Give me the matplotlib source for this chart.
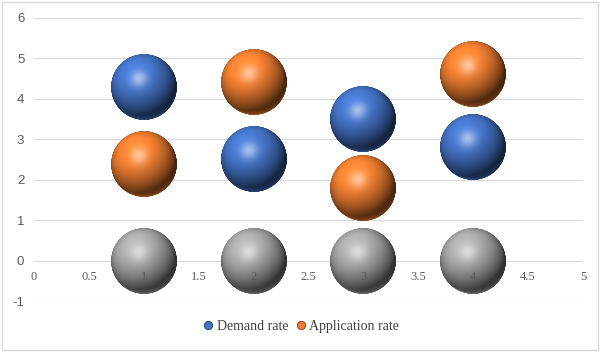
import numpy as np
import matplotlib
matplotlib.use("Agg")
import matplotlib.pyplot as plt
from matplotlib.offsetbox import OffsetImage, AnnotationBbox
from matplotlib.lines import Line2D
from matplotlib.patches import Rectangle

# ---- data ----
x_positions = [1, 2, 3, 4]
demand_rate = [4.3, 2.5, 3.5, 2.8]
application_rate = [2.4, 4.4, 1.8, 4.6]
baseline = [0, 0, 0, 0]
series_names = ["Demand rate", "Application rate", ""]
series_colors = ["#4472C4", "#ED7D31", "#A5A5A5"]
x_ticks = [0, 0.5, 1, 1.5, 2, 2.5, 3, 3.5, 4, 4.5, 5]
x_tick_labels = ["0", "0.5", "1", "1.5", "2", "2.5", "3", "3.5", "4", "4.5", "5"]
y_ticks = [-1, 0, 1, 2, 3, 4, 5, 6]

DPI = 100
SPHERE_PX = 66
N = 200


def sphere_image(hex_color, n=N):
    base = np.array(matplotlib.colors.to_rgb(hex_color))
    c = (np.arange(n) + 0.5) / n * 2 - 1
    u, vv = np.meshgrid(c, c)
    v = -vv
    r2 = u ** 2 + v ** 2
    w = np.sqrt(np.clip(1 - r2, 0, 1))
    L = np.array([-0.3, 0.5, 0.81])
    L = L / np.linalg.norm(L)
    diff = np.clip(u * L[0] + v * L[1] + w * L[2], 0, 1)
    H = L + np.array([0, 0, 1.0])
    H = H / np.linalg.norm(H)
    spec = np.clip(u * H[0] + v * H[1] + w * H[2], 0, 1) ** 30
    rim = np.clip(-v, 0, 1) ** 2 * (1 - w) ** 2 * 0.45
    shade = 0.30 + 0.85 * diff
    rgb = base[None, None, :] * shade[..., None]
    rgb = rgb + rim[..., None] * base[None, None, :]
    rgb = rgb + 0.5 * spec[..., None] * (1 - rgb)
    rgb = np.clip(rgb, 0, 1)
    dist = np.sqrt(r2)
    alpha = np.clip((1 - dist) * n / 2.0 + 0.5, 0, 1)
    return np.dstack([rgb, alpha])


fig = plt.figure(figsize=(6.0, 3.52), dpi=DPI)
fig.patches.append(Rectangle((0.004, 0.006), 0.992, 0.988, transform=fig.transFigure,
                             fill=False, edgecolor="#d9d9d9", lw=1.0))
ax = fig.add_axes([0.0567, 0.144, 0.915, 0.806])
for s in ax.spines.values():
    s.set_visible(False)
ax.spines["bottom"].set_position(("data", 0))
ax.set_xlim(0, 5)
ax.set_ylim(-1, 6)
ax.set_yticks(y_ticks)
ax.set_yticklabels([str(t) for t in y_ticks], family="Liberation Sans", fontsize=9.5,
                   color="#595959")
ax.set_xticks(x_ticks)
ax.set_xticklabels(x_tick_labels, family="Liberation Serif", fontsize=9, color="#595959")
ax.tick_params(axis="y", length=0, pad=7)
ax.tick_params(axis="x", length=0, pad=7)
ax.grid(axis="y", color="#d9d9d9", lw=0.9)
ax.grid(axis="x", visible=False)
ax.set_axisbelow(True)
ax.xaxis.set_zorder(5)

zoom = SPHERE_PX / N * 72 / DPI
all_series = [demand_rate, application_rate, baseline]
for ys, col in zip(all_series, series_colors):
    img = sphere_image(col)
    for xv, yv in zip(x_positions, ys):
        ab = AnnotationBbox(OffsetImage(img, zoom=zoom), (xv, yv), frameon=False,
                            box_alignment=(0.5, 0.5), pad=0, zorder=3)
        ax.add_artist(ab)

handles = [Line2D([], [], marker="o", ls="none", markersize=6,
                  markerfacecolor=series_colors[i],
                  markeredgecolor=np.array(matplotlib.colors.to_rgb(series_colors[i])) * 0.5,
                  markeredgewidth=0.6, label=series_names[i]) for i in range(2)]
fig.legend(handles=handles, loc="center", bbox_to_anchor=(0.5, 0.073), ncol=2,
           frameon=False, handletextpad=0.1, columnspacing=0.4, handlelength=1.0,
           prop={"family": "Liberation Serif", "size": 10}, labelcolor="#404040")

fig.savefig("out.png", dpi=DPI)
